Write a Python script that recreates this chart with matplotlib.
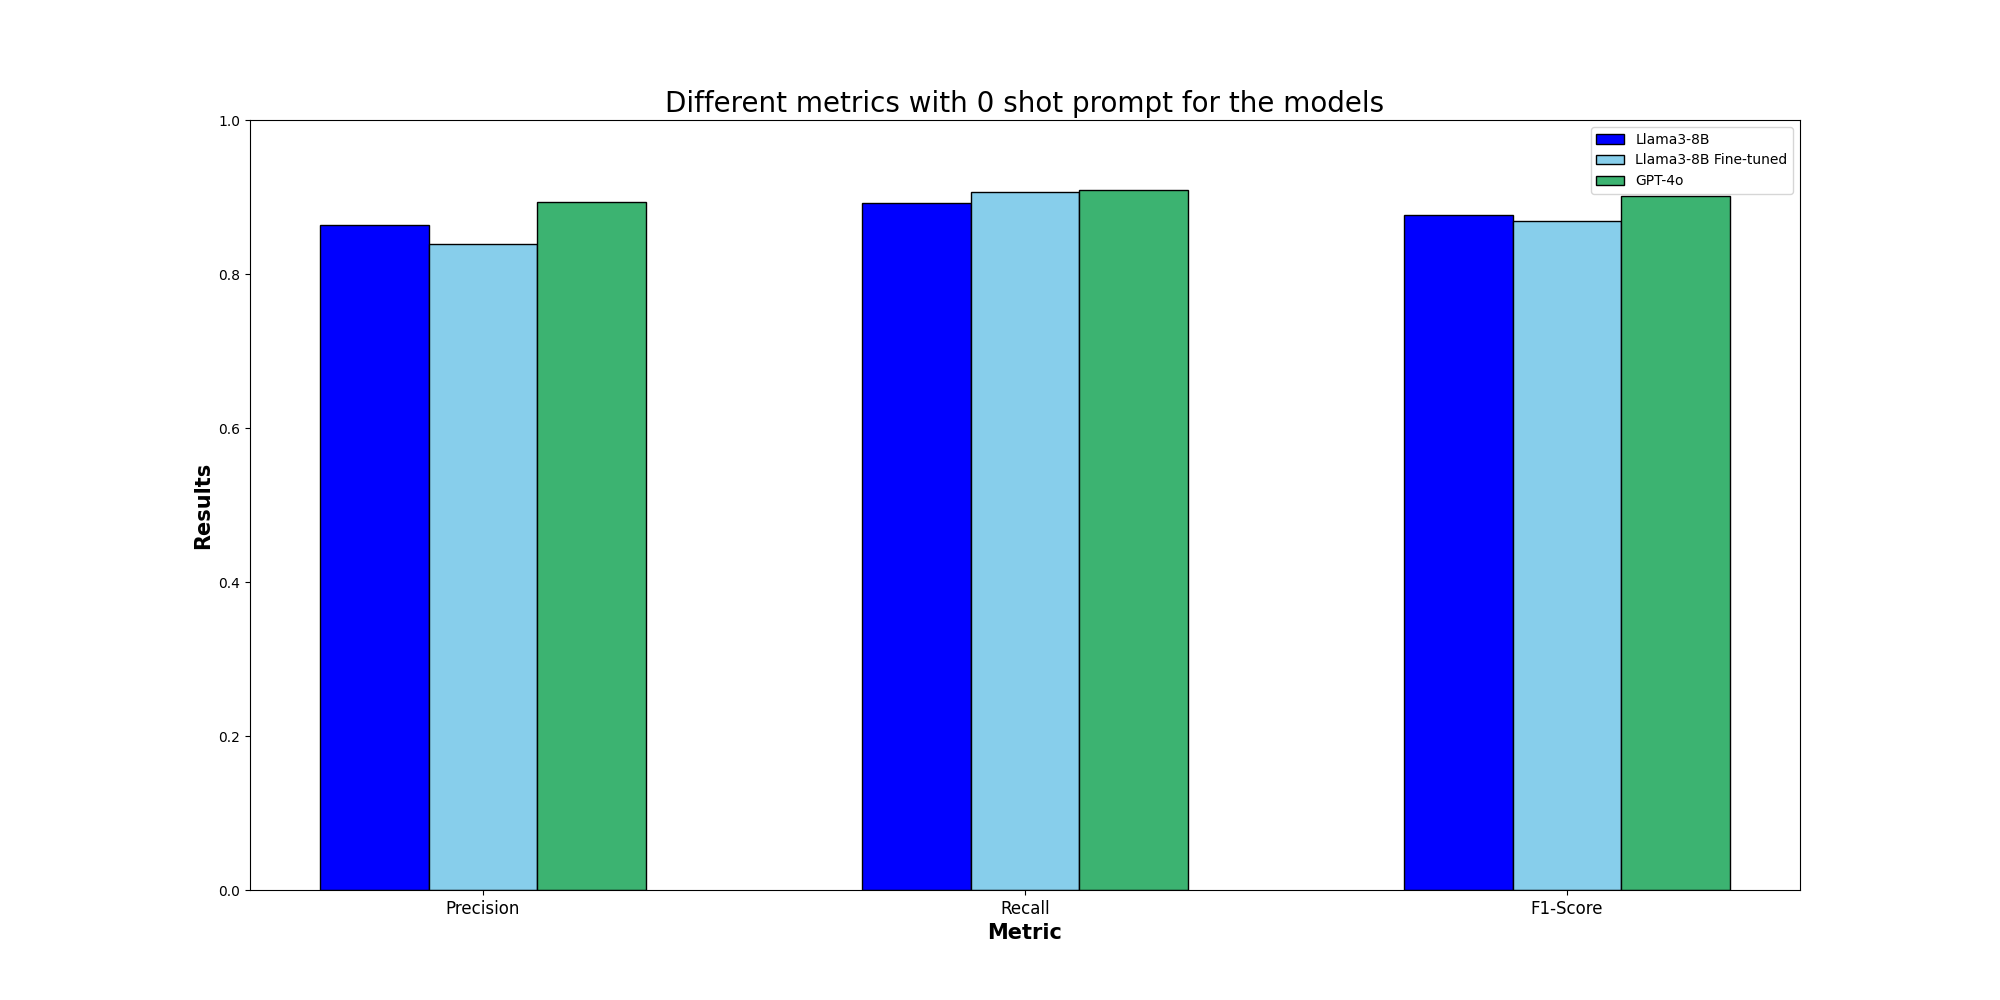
import numpy as np
import matplotlib.pyplot as plt

metricas = ["Precision", "Recall", "F1-Score"]
llama = [0.864, 0.892, 0.877]
llama_ft = [0.839, 0.906, 0.869]
gpt4o = [0.894, 0.909, 0.901]

x = np.arange(len(metricas))
ancho = 0.2

fig, ax = plt.subplots(figsize=(20, 10), dpi=100)
ax.bar(x - ancho, llama, ancho, color="blue", edgecolor="black", label="Llama3-8B")
ax.bar(x, llama_ft, ancho, color="skyblue", edgecolor="black", label="Llama3-8B Fine-tuned")
ax.bar(x + ancho, gpt4o, ancho, color="mediumseagreen", edgecolor="black", label="GPT-4o")

ax.set_title("Different metrics with 0 shot prompt for the models", fontsize=20)
ax.set_xlabel("Metric", fontsize=15, fontweight="bold")
ax.set_ylabel("Results", fontsize=15, fontweight="bold")
ax.set_xticks(x)
ax.set_xticklabels(metricas, fontsize=12)
ax.set_ylim(0, 1.0)
ax.legend(loc="upper right")

plt.savefig("out.png")
